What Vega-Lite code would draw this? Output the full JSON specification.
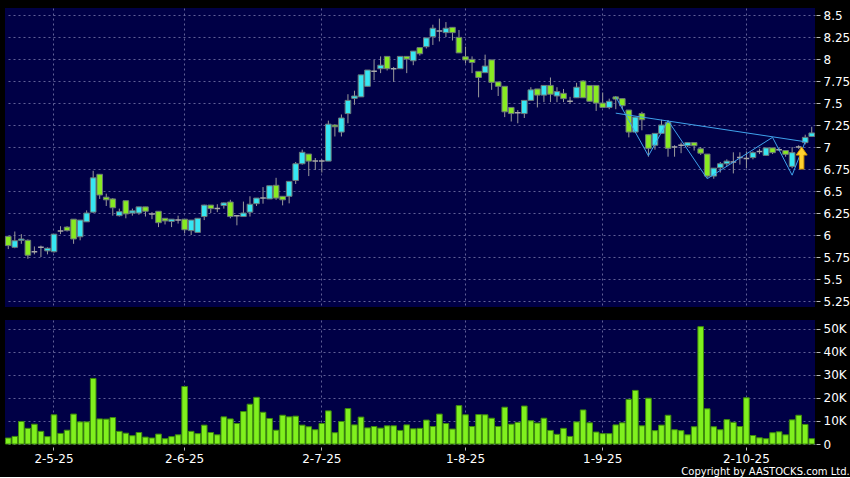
{
  "$schema": "https://vega.github.io/schema/vega-lite/v6.json",
  "background": "#000000",
  "padding": {"left": 4, "top": 8, "right": 0, "bottom": 0},
  "spacing": 12,
  "title": {"text": "Copyright by AASTOCKS.com Ltd.", "orient": "bottom", "anchor": "end", "frame": "bounds", "color": "#ffffff", "fontSize": 10, "font": "DejaVu Sans", "fontWeight": "normal", "offset": 3},
  "config": {
    "view": {"fill": "#000046", "stroke": null},
    "axis": {"gridColor": "#6a6aa0", "gridDash": [2, 3], "gridWidth": 1, "gridOpacity": 0.9, "labelColor": "#ffffff", "labelFont": "DejaVu Sans", "labelFontSize": 12, "labelOverlap": false, "tickColor": "#bbbbbb", "domain": false, "title": null}
  },
  "datasets": {
    "ohlc": [
      {"date":"2025-04-22","open":5.985,"high":5.99,"low":5.84,"close":5.88,"volume":2600},
      {"date":"2025-04-23","open":5.86,"high":6.04,"low":5.85,"close":5.935,"volume":3300},
      {"date":"2025-04-24","open":5.94,"high":6.01,"low":5.9,"close":5.955,"volume":9800},
      {"date":"2025-04-25","open":5.94,"high":5.95,"low":5.73,"close":5.77,"volume":6800},
      {"date":"2025-04-28","open":5.81,"high":5.87,"low":5.78,"close":5.81,"volume":8600},
      {"date":"2025-04-29","open":5.86,"high":5.88,"low":5.75,"close":5.86,"volume":5500},
      {"date":"2025-04-30","open":5.82,"high":5.86,"low":5.78,"close":5.85,"volume":3200},
      {"date":"2025-05-02","open":5.81,"high":6.01,"low":5.8,"close":6.01,"volume":12700},
      {"date":"2025-05-06","open":6.045,"high":6.1,"low":6.01,"close":6.045,"volume":4600},
      {"date":"2025-05-07","open":6.09,"high":6.1,"low":6.04,"close":6.05,"volume":6000},
      {"date":"2025-05-08","open":6.18,"high":6.18,"low":5.9,"close":5.955,"volume":13000},
      {"date":"2025-05-09","open":5.98,"high":6.17,"low":5.94,"close":6.17,"volume":9600},
      {"date":"2025-05-12","open":6.15,"high":6.28,"low":6.15,"close":6.25,"volume":9600},
      {"date":"2025-05-13","open":6.26,"high":6.73,"low":6.25,"close":6.65,"volume":28500},
      {"date":"2025-05-14","open":6.69,"high":6.69,"low":6.41,"close":6.455,"volume":10900},
      {"date":"2025-05-15","open":6.43,"high":6.47,"low":6.33,"close":6.4,"volume":10800},
      {"date":"2025-05-16","open":6.41,"high":6.42,"low":6.22,"close":6.31,"volume":11500},
      {"date":"2025-05-19","open":6.22,"high":6.3,"low":6.21,"close":6.265,"volume":5500},
      {"date":"2025-05-20","open":6.39,"high":6.39,"low":6.19,"close":6.24,"volume":4700},
      {"date":"2025-05-21","open":6.25,"high":6.3,"low":6.22,"close":6.275,"volume":3600},
      {"date":"2025-05-22","open":6.25,"high":6.32,"low":6.23,"close":6.32,"volume":5000},
      {"date":"2025-05-23","open":6.32,"high":6.32,"low":6.21,"close":6.27,"volume":3000},
      {"date":"2025-05-26","open":6.24,"high":6.26,"low":6.18,"close":6.24,"volume":2600},
      {"date":"2025-05-27","open":6.27,"high":6.27,"low":6.09,"close":6.14,"volume":4300},
      {"date":"2025-05-28","open":6.19,"high":6.19,"low":6.12,"close":6.16,"volume":2300},
      {"date":"2025-05-29","open":6.155,"high":6.18,"low":6.09,"close":6.18,"volume":3200},
      {"date":"2025-05-30","open":6.17,"high":6.22,"low":6.13,"close":6.17,"volume":4000},
      {"date":"2025-06-02","open":6.18,"high":6.18,"low":6.02,"close":6.06,"volume":25000},
      {"date":"2025-06-03","open":6.05,"high":6.17,"low":6.0,"close":6.17,"volume":5500},
      {"date":"2025-06-04","open":6.03,"high":6.19,"low":6.03,"close":6.19,"volume":4500},
      {"date":"2025-06-05","open":6.21,"high":6.345,"low":6.17,"close":6.34,"volume":8200},
      {"date":"2025-06-06","open":6.34,"high":6.34,"low":6.25,"close":6.3,"volume":5000},
      {"date":"2025-06-09","open":6.3,"high":6.35,"low":6.26,"close":6.3,"volume":4000},
      {"date":"2025-06-10","open":6.335,"high":6.37,"low":6.3,"close":6.365,"volume":11800},
      {"date":"2025-06-11","open":6.375,"high":6.4,"low":6.19,"close":6.21,"volume":10900},
      {"date":"2025-06-12","open":6.22,"high":6.22,"low":6.11,"close":6.22,"volume":8900},
      {"date":"2025-06-13","open":6.21,"high":6.38,"low":6.21,"close":6.25,"volume":14100},
      {"date":"2025-06-16","open":6.26,"high":6.44,"low":6.21,"close":6.35,"volume":17300},
      {"date":"2025-06-17","open":6.356,"high":6.42,"low":6.33,"close":6.42,"volume":20300},
      {"date":"2025-06-18","open":6.42,"high":6.545,"low":6.356,"close":6.42,"volume":13800},
      {"date":"2025-06-19","open":6.41,"high":6.56,"low":6.41,"close":6.56,"volume":11100},
      {"date":"2025-06-20","open":6.565,"high":6.65,"low":6.4,"close":6.42,"volume":6000},
      {"date":"2025-06-23","open":6.44,"high":6.44,"low":6.337,"close":6.4,"volume":12500},
      {"date":"2025-06-24","open":6.44,"high":6.61,"low":6.36,"close":6.61,"volume":11800},
      {"date":"2025-06-25","open":6.62,"high":6.83,"low":6.58,"close":6.81,"volume":12100},
      {"date":"2025-06-26","open":6.81,"high":6.97,"low":6.8,"close":6.94,"volume":8200},
      {"date":"2025-06-27","open":6.92,"high":6.92,"low":6.67,"close":6.84,"volume":7500},
      {"date":"2025-06-30","open":6.84,"high":6.875,"low":6.74,"close":6.84,"volume":6200},
      {"date":"2025-07-02","open":6.84,"high":6.86,"low":6.71,"close":6.84,"volume":8900},
      {"date":"2025-07-03","open":6.84,"high":7.3,"low":6.84,"close":7.26,"volume":14400},
      {"date":"2025-07-04","open":7.25,"high":7.26,"low":7.12,"close":7.23,"volume":4900},
      {"date":"2025-07-07","open":7.17,"high":7.37,"low":7.12,"close":7.33,"volume":9800},
      {"date":"2025-07-08","open":7.38,"high":7.6,"low":7.27,"close":7.53,"volume":15400},
      {"date":"2025-07-09","open":7.553,"high":7.64,"low":7.48,"close":7.58,"volume":8300},
      {"date":"2025-07-10","open":7.57,"high":7.82,"low":7.57,"close":7.82,"volume":11700},
      {"date":"2025-07-11","open":7.69,"high":7.875,"low":7.69,"close":7.875,"volume":7000},
      {"date":"2025-07-14","open":7.86,"high":7.99,"low":7.76,"close":7.86,"volume":7600},
      {"date":"2025-07-15","open":7.89,"high":8.03,"low":7.84,"close":7.93,"volume":6900},
      {"date":"2025-07-16","open":8.03,"high":8.03,"low":7.87,"close":7.89,"volume":7900},
      {"date":"2025-07-17","open":7.89,"high":7.91,"low":7.74,"close":7.89,"volume":7900},
      {"date":"2025-07-18","open":7.89,"high":8.03,"low":7.89,"close":8.03,"volume":5900},
      {"date":"2025-07-21","open":8.03,"high":8.03,"low":7.84,"close":8.0,"volume":8300},
      {"date":"2025-07-22","open":7.98,"high":8.09,"low":7.93,"close":8.09,"volume":6600},
      {"date":"2025-07-23","open":8.13,"high":8.13,"low":8.04,"close":8.06,"volume":6800},
      {"date":"2025-07-24","open":8.14,"high":8.24,"low":8.12,"close":8.24,"volume":10400},
      {"date":"2025-07-25","open":8.254,"high":8.39,"low":8.16,"close":8.35,"volume":7600},
      {"date":"2025-07-28","open":8.32,"high":8.46,"low":8.2,"close":8.32,"volume":13000},
      {"date":"2025-07-29","open":8.3,"high":8.42,"low":8.25,"close":8.35,"volume":8900},
      {"date":"2025-07-30","open":8.36,"high":8.36,"low":8.21,"close":8.3,"volume":6500},
      {"date":"2025-07-31","open":8.246,"high":8.33,"low":8.07,"close":8.07,"volume":16700},
      {"date":"2025-08-01","open":8.026,"high":8.14,"low":7.95,"close":7.99,"volume":12700},
      {"date":"2025-08-04","open":7.996,"high":8.03,"low":7.84,"close":7.96,"volume":7600},
      {"date":"2025-08-05","open":7.86,"high":7.86,"low":7.565,"close":7.79,"volume":12800},
      {"date":"2025-08-06","open":7.845,"high":8.05,"low":7.845,"close":7.92,"volume":12700},
      {"date":"2025-08-07","open":7.99,"high":7.99,"low":7.65,"close":7.735,"volume":11200},
      {"date":"2025-08-08","open":7.74,"high":7.74,"low":7.58,"close":7.69,"volume":7600},
      {"date":"2025-08-11","open":7.69,"high":7.69,"low":7.34,"close":7.4,"volume":16000},
      {"date":"2025-08-12","open":7.45,"high":7.45,"low":7.29,"close":7.38,"volume":8600},
      {"date":"2025-08-13","open":7.39,"high":7.42,"low":7.27,"close":7.39,"volume":9400},
      {"date":"2025-08-14","open":7.38,"high":7.53,"low":7.33,"close":7.53,"volume":16500},
      {"date":"2025-08-15","open":7.53,"high":7.68,"low":7.53,"close":7.65,"volume":10100},
      {"date":"2025-08-18","open":7.66,"high":7.66,"low":7.45,"close":7.59,"volume":9100},
      {"date":"2025-08-19","open":7.59,"high":7.7,"low":7.51,"close":7.7,"volume":11200},
      {"date":"2025-08-20","open":7.7,"high":7.79,"low":7.51,"close":7.6,"volume":5900},
      {"date":"2025-08-21","open":7.58,"high":7.68,"low":7.51,"close":7.63,"volume":4200},
      {"date":"2025-08-22","open":7.61,"high":7.66,"low":7.51,"close":7.55,"volume":6800},
      {"date":"2025-08-25","open":7.52,"high":7.57,"low":7.49,"close":7.52,"volume":3300},
      {"date":"2025-08-26","open":7.56,"high":7.73,"low":7.56,"close":7.68,"volume":9600},
      {"date":"2025-08-27","open":7.75,"high":7.76,"low":7.56,"close":7.56,"volume":14800},
      {"date":"2025-08-28","open":7.7,"high":7.7,"low":7.52,"close":7.52,"volume":9200},
      {"date":"2025-08-29","open":7.7,"high":7.7,"low":7.41,"close":7.5,"volume":5200},
      {"date":"2025-09-01","open":7.5,"high":7.62,"low":7.45,"close":7.45,"volume":4500},
      {"date":"2025-09-02","open":7.45,"high":7.55,"low":7.43,"close":7.52,"volume":4500},
      {"date":"2025-09-03","open":7.57,"high":7.58,"low":7.43,"close":7.545,"volume":8300},
      {"date":"2025-09-04","open":7.55,"high":7.55,"low":7.43,"close":7.47,"volume":9200},
      {"date":"2025-09-05","open":7.42,"high":7.42,"low":7.11,"close":7.17,"volume":19400},
      {"date":"2025-09-08","open":7.17,"high":7.34,"low":7.16,"close":7.34,"volume":23300},
      {"date":"2025-09-09","open":7.38,"high":7.4,"low":7.19,"close":7.31,"volume":7900},
      {"date":"2025-09-10","open":7.14,"high":7.14,"low":6.89,"close":6.985,"volume":19900},
      {"date":"2025-09-11","open":7.02,"high":7.155,"low":6.97,"close":7.155,"volume":5800},
      {"date":"2025-09-12","open":7.155,"high":7.31,"low":7.155,"close":7.25,"volume":8200},
      {"date":"2025-09-15","open":7.28,"high":7.3,"low":6.89,"close":6.985,"volume":12500},
      {"date":"2025-09-16","open":7.0,"high":7.02,"low":6.89,"close":7.0,"volume":6200},
      {"date":"2025-09-17","open":7.02,"high":7.05,"low":6.93,"close":7.02,"volume":5800},
      {"date":"2025-09-18","open":7.015,"high":7.05,"low":7.0,"close":7.05,"volume":4000},
      {"date":"2025-09-19","open":7.05,"high":7.05,"low":6.96,"close":7.015,"volume":7500},
      {"date":"2025-09-22","open":6.98,"high":7.0,"low":6.91,"close":6.93,"volume":51000},
      {"date":"2025-09-23","open":6.92,"high":6.92,"low":6.65,"close":6.67,"volume":15300},
      {"date":"2025-09-24","open":6.67,"high":6.76,"low":6.64,"close":6.76,"volume":7500},
      {"date":"2025-09-25","open":6.765,"high":6.83,"low":6.71,"close":6.81,"volume":6200},
      {"date":"2025-09-26","open":6.81,"high":6.86,"low":6.78,"close":6.84,"volume":10600},
      {"date":"2025-09-29","open":6.83,"high":6.94,"low":6.7,"close":6.83,"volume":9400},
      {"date":"2025-09-30","open":6.88,"high":6.94,"low":6.8,"close":6.88,"volume":7600},
      {"date":"2025-10-02","open":6.87,"high":6.95,"low":6.76,"close":6.87,"volume":20100},
      {"date":"2025-10-03","open":6.88,"high":6.95,"low":6.86,"close":6.936,"volume":3700},
      {"date":"2025-10-06","open":6.95,"high":6.98,"low":6.92,"close":6.95,"volume":2700},
      {"date":"2025-10-08","open":6.905,"high":6.99,"low":6.9,"close":6.99,"volume":2300},
      {"date":"2025-10-09","open":6.99,"high":6.99,"low":6.92,"close":6.936,"volume":4900},
      {"date":"2025-10-10","open":6.97,"high":6.99,"low":6.96,"close":6.97,"volume":5300},
      {"date":"2025-10-13","open":6.96,"high":6.96,"low":6.89,"close":6.917,"volume":4000},
      {"date":"2025-10-14","open":6.78,"high":7.0,"low":6.76,"close":6.936,"volume":10500},
      {"date":"2025-10-15","open":7.0,"high":7.02,"low":6.98,"close":7.0,"volume":12500},
      {"date":"2025-10-16","open":7.05,"high":7.14,"low":7.03,"close":7.11,"volume":8500},
      {"date":"2025-10-17","open":7.12,"high":7.23,"low":7.12,"close":7.16,"volume":2300}
    ],
    "lines": [
      {"date":"2025-09-03","price":7.57,"line":"zigzag"},
      {"date":"2025-09-10","price":6.9,"line":"zigzag"},
      {"date":"2025-09-15","price":7.3,"line":"zigzag"},
      {"date":"2025-09-23","price":6.64,"line":"zigzag"},
      {"date":"2025-10-09","price":7.11,"line":"zigzag"},
      {"date":"2025-10-14","price":6.68,"line":"zigzag"},
      {"date":"2025-10-16","price":7.06,"line":"zigzag"},
      {"date":"2025-09-03","price":7.385,"line":"trend"},
      {"date":"2025-10-16","price":7.06,"line":"trend"}
    ],
    "signal": [
      {"date":"2025-10-15","price":6.875}
    ]
  },
  "vconcat": [
    {
      "width": 810,
      "height": 299,
      "encoding": {
        "x": {"field": "date", "type": "ordinal",
              "scale": {"paddingInner": 0.14, "paddingOuter": 0.07},
              "axis": {"values": ["2025-05-02","2025-06-02","2025-07-02","2025-08-01","2025-09-01","2025-10-02"], "grid": true, "labels": false, "ticks": false, "domain": false, "orient": "bottom", "minExtent": 0, "maxExtent": 0, "offset": 0}}
      },
      "layer": [
        {
          "data": {"name": "ohlc"},
          "mark": {"type": "rule", "color": "#9a9a9a", "strokeWidth": 1},
          "encoding": {
            "y": {"field": "low", "type": "quantitative",
                  "scale": {"domain": [5.182, 8.58], "nice": false, "zero": false},
                  "axis": {"orient": "right", "values": [5.25,5.5,5.75,6,6.25,6.5,6.75,7,7.25,7.5,7.75,8,8.25,8.5], "tickCount": 30, "labelExpr": "'' + datum.value", "grid": true, "tickSize": 4, "labelPadding": 3, "offset": 1}},
            "y2": {"field": "high"}
          }
        },
        {
          "data": {"name": "ohlc"},
          "mark": {"type": "bar"},
          "encoding": {
            "y": {"field": "open", "type": "quantitative"},
            "y2": {"field": "close"},
            "fill": {"condition": [{"test": "datum.close > datum.open", "value": "#36e6f2"}, {"test": "datum.close < datum.open", "value": "#88ea22"}], "value": "#a8a8a8"},
            "stroke": {"condition": {"test": "datum.close == datum.open", "value": "#a8a8a8"}, "value": "#6c7878"},
            "strokeWidth": {"condition": {"test": "datum.close == datum.open", "value": 1.5}, "value": 1}
          }
        },
        {
          "data": {"name": "lines"},
          "mark": {"type": "line", "color": "#3fa2ec", "strokeWidth": 1},
          "encoding": {
            "y": {"field": "price", "type": "quantitative"},
            "detail": {"field": "line"}
          }
        },
        {
          "data": {"name": "signal"},
          "mark": {"type": "point", "shape": "M0,-1L0.5,-0.27L0.2,-0.27L0.2,1L-0.2,1L-0.2,-0.27L-0.5,-0.27Z", "size": 484, "filled": true, "fill": "#ffd030", "stroke": "#d89a00", "strokeWidth": 1, "opacity": 1, "xOffset": 3},
          "encoding": {
            "y": {"field": "price", "type": "quantitative"}
          }
        }
      ]
    },
    {
      "width": 810,
      "height": 124,
      "data": {"name": "ohlc"},
      "mark": {"type": "bar", "fill": "#80f01e", "stroke": "#3e8c0c", "strokeWidth": 1},
      "encoding": {
        "x": {"field": "date", "type": "ordinal",
              "scale": {"paddingInner": 0.14, "paddingOuter": 0.07},
              "axis": {"values": ["2025-05-02","2025-06-02","2025-07-02","2025-08-01","2025-09-01","2025-10-02"], "grid": true, "labelAngle": 0, "tickSize": 3, "offset": 3, "labelPadding": 3,
                       "labelExpr": "toNumber(substring(datum.value,8,10)) + '-' + toNumber(substring(datum.value,5,7)) + '-' + substring(datum.value,2,4)"}},
        "y": {"field": "volume", "type": "quantitative",
              "scale": {"domain": [0, 53900], "nice": false},
              "axis": {"orient": "right", "values": [0,10000,20000,30000,40000,50000], "tickCount": 20, "grid": true, "tickSize": 4, "labelPadding": 3, "offset": 1,
                       "labelExpr": "datum.value == 0 ? '0' : (datum.value / 1000) + 'K'"}}
      }
    }
  ]
}
